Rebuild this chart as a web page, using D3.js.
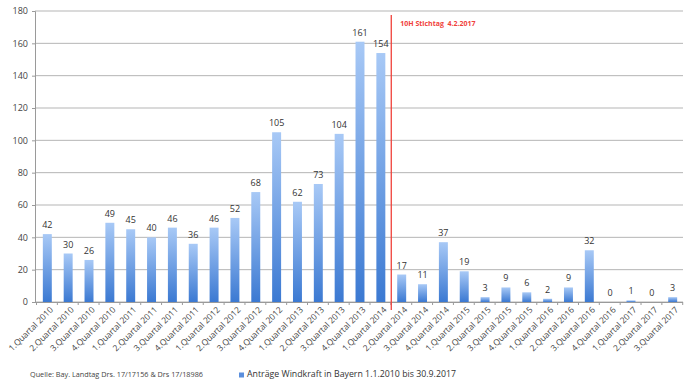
<!DOCTYPE html>
<html>
<head>
<meta charset="utf-8">
<script src="https://cdnjs.cloudflare.com/ajax/libs/d3/7.8.5/d3.min.js"></script>
<style>
  body { margin: 0; background: #fff; }
  svg text { font-family: "Open Sans", "DejaVu Sans", sans-serif; }
</style>
</head>
<body>
<svg class="chart" width="699" height="387"></svg>
<script>
// quarters 1.2010 .. 3.2017
let quarters = ['1.Quartal 2010','2.Quartal 2010','3.Quartal 2010','4.Quartal 2010',
  '1.Quartal 2011','2.Quartal 2011','3.Quartal 2011','4.Quartal 2011',
  '1.Quartal 2012','2.Quartal 2012','3.Quartal 2012','4.Quartal 2012',
  '1.Quartal 2013','2.Quartal 2013','3.Quartal 2013','4.Quartal 2013',
  '1.Quartal 2014','2.Quartal 2014','3.Quartal 2014','4.Quartal 2014',
  '1.Quartal 2015','2.Quartal 2015','3.Quartal 2015','4.Quartal 2015',
  '1.Quartal 2016','2.Quartal 2016','3.Quartal 2016','4.Quartal 2016',
  '1.Quartal 2017','2.Quartal 2017','3.Quartal 2017'];

let antraege = [42, 30, 26, 49, 45, 40, 46, 36, 46, 52, 68, 105, 62, 73, 104, 161,
  154, 17, 11, 37, 19, 3, 9, 6, 2, 9, 32, 0, 1, 0, 3];

let yTicks = [0, 20, 40, 60, 80, 100, 120, 140, 160, 180];

let stichtagIndex = 17; // red line sits before this quarter
let stichtagLabel = '10H Stichtag  4.2.2017';
let seriesName = 'Anträge Windkraft in Bayern 1.1.2010 bis 30.9.2017';
let sourceText = 'Quelle: Bay. Landtag Drs. 17/17156 & Drs 17/18986';

let svg = d3.select('svg.chart');

let x = d3.scaleBand()
  .domain(quarters)
  .range([37, 683])
  .paddingInner(0.57)
  .paddingOuter(0.28);

let y = d3.scaleLinear()
  .domain([0, 180])
  .range([302, 11]);

// gradient for the bars
let defs = svg.append('defs');
let grad = defs.append('linearGradient')
  .attr('id', 'barGrad')
  .attr('x1', 0).attr('y1', 0).attr('x2', 0).attr('y2', 1);
grad.append('stop').attr('offset', '0%').attr('stop-color', '#a8c9f6');
grad.append('stop').attr('offset', '100%').attr('stop-color', '#3b79d2');

// grid lines
svg.append('g')
  .attr('class', 'grid')
  .selectAll('line')
  .data(yTicks)
  .enter()
  .append('line')
  .attr('x1', 35)
  .attr('x2', 683)
  .attr('y1', d => y(d))
  .attr('y2', d => y(d))
  .style('stroke', '#b5b5b5')
  .style('stroke-width', '1px');

// y axis
let yAxis = svg.append('g')
  .attr('transform', 'translate(35,0)')
  .call(d3.axisLeft(y).tickValues(yTicks).tickSize(3).tickPadding(4));
yAxis.select('.domain').style('stroke', '#9a9a9a');
yAxis.selectAll('.tick line').style('stroke', '#9a9a9a');
yAxis.selectAll('text')
  .style('font-size', '9px')
  .style('fill', '#444');

// x axis
let xAxis = svg.append('g')
  .attr('transform', `translate(0,${y(0)})`)
  .call(d3.axisBottom(x).tickSize(0).tickSizeOuter(0));
xAxis.select('.domain').style('stroke', '#9a9a9a').attr('d', 'M35,0.5H683');
xAxis.selectAll('.tick text')
  .attr('text-anchor', 'end')
  .attr('transform', 'translate(3,5) rotate(-45)')
  .attr('dy', '0.55em')
  .attr('dx', '0')
  .attr('y', 0)
  .style('font-size', '8.5px')
  .style('fill', '#444');

// small ticks between categories
svg.append('g')
  .selectAll('line.sep')
  .data(d3.range(quarters.length + 1))
  .enter()
  .append('line')
  .attr('class', 'sep')
  .attr('x1', i => x.range()[0] + i * x.step() - 0.5)
  .attr('x2', i => x.range()[0] + i * x.step() - 0.5)
  .attr('y1', y(0))
  .attr('y2', y(0) + 3)
  .style('stroke', '#9a9a9a');

// bars
svg.append('g')
  .selectAll('rect.bar')
  .data(antraege)
  .enter()
  .append('rect')
  .attr('class', 'bar')
  .attr('x', (d, i) => x(quarters[i]))
  .attr('width', x.bandwidth())
  .attr('y', d => y(d))
  .attr('height', d => y(0) - y(d))
  .style('fill', 'url(#barGrad)');

// value labels
svg.append('g')
  .selectAll('text.val')
  .data(antraege)
  .enter()
  .append('text')
  .attr('class', 'val')
  .attr('x', (d, i) => x(quarters[i]) + x.bandwidth() / 2)
  .attr('y', d => y(d) - 6)
  .attr('text-anchor', 'middle')
  .text(d => d)
  .style('font-size', '9px')
  .style('fill', '#333');

// red Stichtag line
let redX = x(quarters[stichtagIndex]) - (x.step() - x.bandwidth()) / 2;
svg.append('line')
  .attr('x1', redX)
  .attr('x2', redX)
  .attr('y1', 15)
  .attr('y2', 310)
  .style('stroke', '#f0413a')
  .style('stroke-width', '1.3px');

svg.append('text')
  .attr('x', redX + 9)
  .attr('y', 26)
  .text(stichtagLabel)
  .style('white-space', 'pre')
  .style('font-size', '7px')
  .style('font-weight', 'bold')
  .style('fill', '#f0413a');

// footer
svg.append('text')
  .attr('x', 30)
  .attr('y', 377)
  .attr('textLength', 173)
  .attr('lengthAdjust', 'spacingAndGlyphs')
  .text(sourceText)
  .style('font-size', '7.5px')
  .style('fill', '#444');

svg.append('rect')
  .attr('x', 239)
  .attr('y', 372.5)
  .attr('width', 5)
  .attr('height', 5)
  .style('fill', '#5b8fdd');

svg.append('text')
  .attr('x', 247)
  .attr('y', 377)
  .attr('textLength', 209)
  .attr('lengthAdjust', 'spacingAndGlyphs')
  .text(seriesName)
  .style('font-size', '8.5px')
  .style('fill', '#333');
</script>
</body>
</html>
